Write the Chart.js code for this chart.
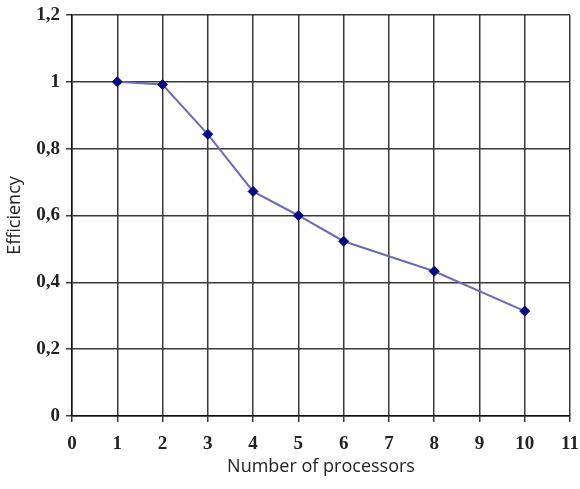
<!DOCTYPE html>
<html>
<head>
<meta charset="utf-8">
<script src="https://cdn.jsdelivr.net/npm/chart.js@4.4.1/dist/chart.umd.min.js"></script>
<style>
  body { margin: 0; background: #fff; }
  #wrap { width: 580px; height: 489px; }
</style>
</head>
<body>
<div id="wrap"><canvas id="myChart" width="580" height="489"></canvas></div>
<script>
// processors vs efficiency (no measurement at 7 or 9)
const processors = [1, 2, 3, 4, 5, 6, 8, 10];
const efficiency = [1.0, 0.992, 0.843, 0.672, 0.6, 0.523, 0.433, 0.314];
const xTicks = [0, 1, 2, 3, 4, 5, 6, 7, 8, 9, 10, 11];
const yTicks = [0, 0.2, 0.4, 0.6, 0.8, 1, 1.2];

const ctx = document.getElementById('myChart');

const gridColor = '#3a3a3a';
const tickFont = { family: 'Liberation Serif', size: 19, weight: 'bold' };
const titleFont = { family: 'Open Sans', size: 18 };

function comma(v) {
  return (Math.round(v * 10) / 10).toString().replace('.', ',');
}

new Chart(ctx, {
  type: 'line',
  data: {
    datasets: [{
      label: 'Efficiency',
      data: processors.map((p, i) => ({ x: p, y: efficiency[i] })),
      borderColor: '#6a6ab8',
      borderWidth: 2,
      pointStyle: 'rectRot',
      pointRadius: 5,
      pointBackgroundColor: '#0a0a80',
      pointBorderColor: '#0a0a80',
      pointBorderWidth: 1,
      tension: 0
    }]
  },
  options: {
    responsive: false,
    animation: false,
    layout: { padding: { top: 15, right: 10, left: 4, bottom: 0 } },
    plugins: {
      legend: { display: false },
      tooltip: { enabled: false }
    },
    scales: {
      x: {
        type: 'linear',
        min: 0,
        max: 11,
        afterBuildTicks: s => { s.ticks = xTicks.map(v => ({ value: v })); },
        afterFit: s => { s.height = 73; s.paddingLeft = 0; s.paddingRight = 0; },
        grid: { color: gridColor, lineWidth: 1.5, tickLength: 6 },
        border: { color: '#111', width: 1.5 },
        ticks: { color: '#222', font: tickFont, padding: 11, maxRotation: 0 },
        title: { display: true, text: 'Number of processors', color: '#222', font: titleFont, padding: { top: 0, bottom: 11 } }
      },
      y: {
        min: 0,
        max: 1.2,
        afterBuildTicks: s => { s.ticks = yTicks.map(v => ({ value: v })); },
        afterFit: s => { s.width = 68; s.paddingTop = 0; s.paddingBottom = 0; },
        grid: { color: gridColor, lineWidth: 1.5, tickLength: 6 },
        border: { color: '#111', width: 1.5 },
        ticks: { color: '#222', font: tickFont, padding: 6, callback: v => comma(v) },
        title: { display: true, text: 'Efficiency', color: '#222', font: titleFont, padding: { top: 0, bottom: 4 } }
      }
    }
  }
});
</script>
</body>
</html>
